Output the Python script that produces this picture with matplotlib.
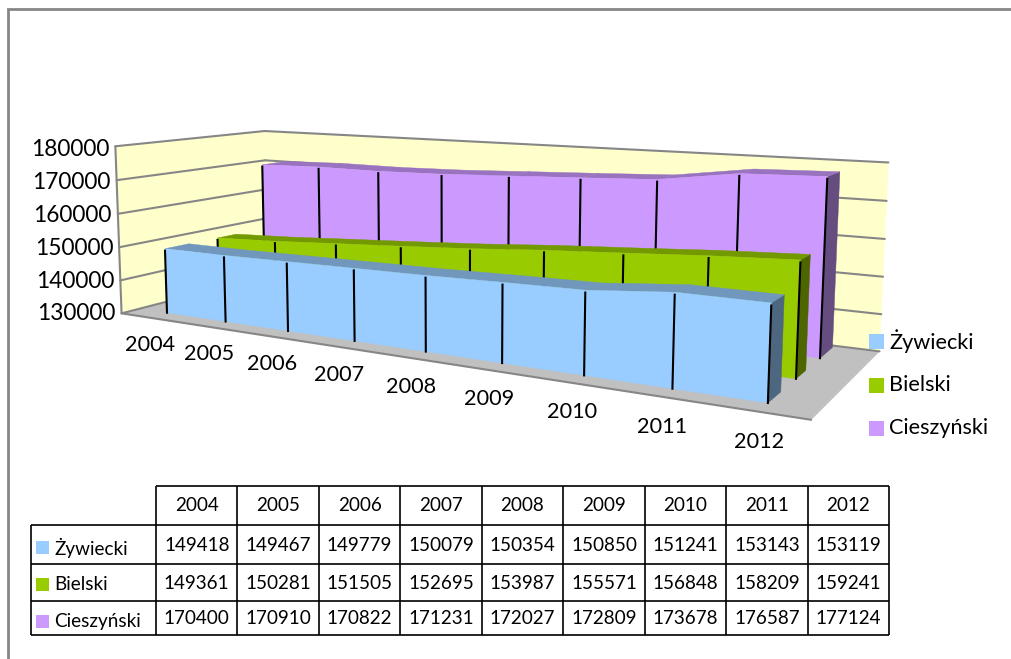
import matplotlib
matplotlib.use('Agg')
import matplotlib.pyplot as plt
from matplotlib.patches import Polygon, Rectangle
import numpy as np

# Data
years = [2004, 2005, 2006, 2007, 2008, 2009, 2010, 2011, 2012]
zywiecki = [149418, 149467, 149779, 150079, 150354, 150850, 151241, 153143, 153119]
bielski = [149361, 150281, 151505, 152695, 153987, 155571, 156848, 158209, 159241]
cieszynski = [170400, 170910, 170822, 171231, 172027, 172809, 173678, 176587, 177124]
series_names = ['Żywiecki', 'Bielski', 'Cieszyński']
y_ticks = [130000, 140000, 150000, 160000, 170000, 180000]

# face, top, side colours per series
colors = [('#99CCFF', '#7197BD', '#4D6780'),
          ('#99CC00', '#739900', '#4D6600'),
          ('#CC99FF', '#9973BF', '#664D80')]
depths = [(0.11, 0.26), (0.45, 0.58), (0.78, 0.97)]

plt.rcParams['font.family'] = ['Lato', 'DejaVu Sans']
fig = plt.figure(figsize=(10.11, 6.59), dpi=100)
ax = fig.add_axes([0, 0, 1, 1])
ax.set_xlim(0, 1011)
ax.set_ylim(659, 0)
ax.axis('off')

# Perspective camera fitted on the corners of the chart box
box = [((0, 0, 0), (123, 311)), ((0, 0, 1), (114, 147)), ((0, 1, 1), (266, 130)),
       ((0, 1, 0), (266, 278)), ((1, 1, 1), (888, 163)), ((1, 1, 0), (880, 349)),
       ((1, 0, 0), (811, 422))]
rows = []
for (a, b, c), (u, v) in box:
    rows.append([a, b, c, 1, 0, 0, 0, 0, -u * a, -u * b, -u * c, -u])
    rows.append([0, 0, 0, 0, a, b, c, 1, -v * a, -v * b, -v * c, -v])
cam = np.linalg.svd(np.array(rows, float))[2][-1].reshape(3, 4)


def proj(x, d, z):
    p = cam @ np.array([x, d, z, 1.0])
    return p[0] / p[2], p[1] / p[2]


def val(v):
    return (v - y_ticks[0]) / (y_ticks[-1] - y_ticks[0])


def cat(i):
    return (i + 0.485) / len(years)


def face(pts, color, z):
    ax.add_patch(Polygon([proj(*p) for p in pts], closed=True, fc=color, ec=color, lw=0.3, zorder=z))


def edge(a, b, z=2, lw=1.5):
    pa, pb = proj(*a), proj(*b)
    ax.plot([pa[0], pb[0]], [pa[1], pb[1]], color='#868686', lw=lw, zorder=z, solid_capstyle='round')


# Walls and floor
face([(0, 0, 0), (0, 1, 0), (0, 1, 1), (0, 0, 1)], '#FFFFCC', 1)
face([(0, 1, 0), (1, 1, 0), (1, 1, 1), (0, 1, 1)], '#FFFFCC', 1)
face([(0, 0, 0), (1, 0, 0), (1, 1, 0), (0, 1, 0)], '#C0C0C0', 1)
for t in y_ticks:
    z = val(t)
    edge((0, 0, z), (0, 1, z))
    edge((0, 1, z), (1, 1, z))
    p = proj(0, 0, z)
    ax.text(p[0] - 6, p[1] + 3 * z, str(t), ha='right', va='center', fontsize=16.3, color='black')
edge((0, 0, 0), (0, 0, 1))
edge((0, 0, 0), (1, 0, 0))

# Areas, back to front
all_series = [zywiecki, bielski, cieszynski]
zo = 3
for k in [2, 1, 0]:
    vals = all_series[k]
    d0, d1 = depths[k]
    col_face, col_top, col_side = colors[k]
    n = len(vals)
    last = cat(n - 1)
    face([(last, d0, 0), (last, d1, 0), (last, d1, val(vals[-1])), (last, d0, val(vals[-1]))], col_side, zo)
    for i in range(n - 1):
        face([(cat(i), d0, val(vals[i])), (cat(i + 1), d0, val(vals[i + 1])),
              (cat(i + 1), d1, val(vals[i + 1])), (cat(i), d1, val(vals[i]))], col_top, zo)
    outline = [(cat(i), d0, 0) for i in range(n)]
    outline += [(cat(i), d0, val(vals[i])) for i in range(n - 1, -1, -1)]
    face(outline, col_face, zo + 0.5)
    for i in range(n):
        # drop lines stop just under the top edge of the face
        a, b = proj(cat(i), d0, 0), proj(cat(i), d0, val(vals[i]) - 0.012)
        ax.plot([a[0], b[0]], [a[1], b[1]], color='black', lw=1.5, zorder=zo + 0.6)
    zo += 1

# Category labels under the floor
for i, y in enumerate(years):
    p = proj((i + 0.5) / len(years), 0, 0)
    ax.text(p[0], p[1] + 27 + 0.4 * i, str(y), ha='center', va='center', fontsize=15.6, color='black')

# Legend
legend_y = [341, 385, 428]
for name, c, y in zip(series_names, colors, legend_y):
    ax.add_patch(Rectangle((869, y - 7), 15, 15, fc=c[0], ec='none', zorder=8))
    ax.text(889, y, name, ha='left', va='center', fontsize=15.6, color='black', zorder=8)

# Data table
col_x = np.linspace(156, 889, len(years) + 1)
row_y = [486, 525, 564, 600.5, 635]
table_left = 31
ax.hlines(row_y[0], col_x[0], col_x[-1], color='black', lw=1.2)
ax.hlines(row_y[1:], table_left, col_x[-1], color='black', lw=1.2)
ax.vlines(col_x, row_y[0], row_y[-1], color='black', lw=1.2)
ax.vlines(table_left, row_y[1], row_y[-1], color='black', lw=1.2)
for j, y in enumerate(years):
    ax.text((col_x[j] + col_x[j + 1]) / 2, (row_y[0] + row_y[1]) / 2, str(y), ha='center', va='center',
            fontsize=13.6, color='black')
key_y = [541, 578, 615]
for r, vals in enumerate(all_series):
    ym = (row_y[r + 1] + row_y[r + 2]) / 2 + 1
    ax.add_patch(Rectangle((36, key_y[r]), 13, 13, fc=colors[r][0], ec='none'))
    ax.text(54, key_y[r] + 6.5, series_names[r], ha='left', va='center', fontsize=13.6, color='black')
    for j, v in enumerate(vals):
        ax.text((col_x[j] + col_x[j + 1]) / 2, ym, str(v), ha='center', va='center', fontsize=13.6, color='black')

# Chart border
ax.plot([1011, 8, 8], [9, 9, 658], color='#868686', lw=2, zorder=9, solid_joinstyle='miter')

fig.savefig('out.png', dpi=100)
